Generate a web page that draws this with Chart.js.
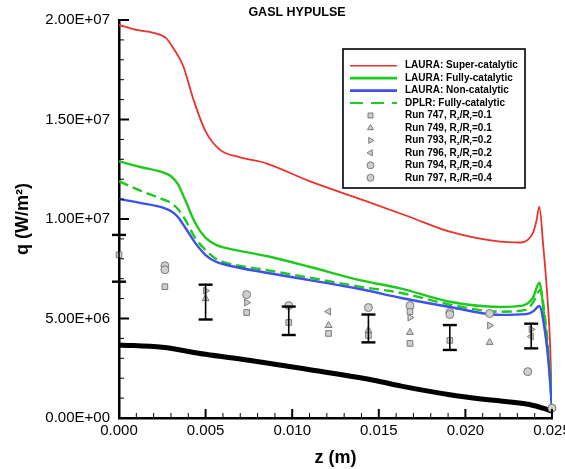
<!DOCTYPE html>
<html>
<head>
<meta charset="utf-8">
<script src="https://cdn.jsdelivr.net/npm/chart.js@4.4.1/dist/chart.umd.min.js"></script>
<style>
  body { margin: 0; background: #fff; }
  canvas { display: block; }
</style>
</head>
<body>
<canvas id="heatChart" width="565" height="469"></canvas>
<script>
// LAURA / DPLR predictions, q in W/m^2 along z in m
const zSuper = [0, 0.001, 0.002, 0.0027, 0.0032, 0.0037, 0.0043, 0.005, 0.0058, 0.007, 0.0085, 0.011, 0.0141, 0.0168, 0.0191, 0.022, 0.0232, 0.0236, 0.0239, 0.0241, 0.02427, 0.0245, 0.0247, 0.0249, 0.025];
const qSuper = [1.975e7, 1.95e7, 1.935e7, 1.91e7, 1.85e7, 1.77e7, 1.6e7, 1.44e7, 1.35e7, 1.31e7, 1.28e7, 1.19e7, 1.095e7, 1.01e7, 9.36e6, 8.86e6, 8.82e6, 8.95e6, 9.3e6, 9.9e6, 1.062e7, 8.6e6, 6.5e6, 3.5e6, 4e5];

const zFully = [0, 0.0013, 0.0025, 0.003, 0.0034, 0.0038, 0.0044, 0.005, 0.0056, 0.0062, 0.0085, 0.011, 0.0139, 0.0163, 0.0191, 0.022, 0.0233, 0.0239, 0.02427, 0.0245, 0.0247, 0.0249, 0.025];
const qFully = [1.29e7, 1.26e7, 1.235e7, 1.215e7, 1.175e7, 1.1e7, 9.8e6, 9.05e6, 8.7e6, 8.54e6, 8.14e6, 7.6e6, 6.93e6, 6.5e6, 5.84e6, 5.58e6, 5.65e6, 6.05e6, 6.8e6, 5.5e6, 3.8e6, 2e6, 5e5];

const zNon = [0, 0.0013, 0.0025, 0.003, 0.0034, 0.0038, 0.0044, 0.005, 0.0056, 0.0062, 0.0085, 0.011, 0.0139, 0.0163, 0.0191, 0.022, 0.0235, 0.0239, 0.02427, 0.0246, 0.0248, 0.025];
const qNon = [1.1e7, 1.08e7, 1.058e7, 1.04e7, 1.01e7, 9.6e6, 8.8e6, 8.19e6, 7.85e6, 7.69e6, 7.3e6, 6.93e6, 6.48e6, 6.03e6, 5.58e6, 5.18e6, 5.22e6, 5.35e6, 5.63e6, 4.3e6, 2.8e6, 5e5];

const zDplr = [0, 0.0013, 0.0025, 0.003, 0.0034, 0.0038, 0.0044, 0.005, 0.0056, 0.0062, 0.0085, 0.011, 0.0139, 0.0163, 0.0191, 0.022, 0.0235, 0.0239, 0.02433, 0.0246, 0.0248, 0.025];
const qDplr = [1.19e7, 1.14e7, 1.1e7, 1.08e7, 1.05e7, 1.0e7, 9.05e6, 8.44e6, 8.0e6, 7.79e6, 7.44e6, 7.05e6, 6.6e6, 6.28e6, 5.7e6, 5.34e6, 5.43e6, 5.8e6, 6.43e6, 5.0e6, 3.2e6, 5e5];

// thick black reference curve
const zBlack = [0, 0.0025, 0.005, 0.0075, 0.0105, 0.0147, 0.0163, 0.0191, 0.0215, 0.0237, 0.025];
const qBlack = [3.67e6, 3.55e6, 3.2e6, 2.9e6, 2.5e6, 1.9e6, 1.6e6, 1.17e6, 0.9e6, 0.68e6, 3.5e5];

// GASL HYPULSE runs
const z747 = [0, 0.00265, 0.00737, 0.0098, 0.0121, 0.0144, 0.0168, 0.0168, 0.0191];
const q747 = [8.2e6, 6.6e6, 5.3e6, 4.8e6, 4.25e6, 4.15e6, 3.75e6, 5.35e6, 3.9e6];
const z749 = [0.005, 0.0121, 0.0144, 0.0168, 0.0214];
const q749 = [6.0e6, 4.65e6, 4.4e6, 4.3e6, 3.8e6];
const z793 = [0.005, 0.00737, 0.0168, 0.0214, 0.0238];
const q793 = [6.4e6, 5.8e6, 5.05e6, 4.65e6, 4.45e6];
const z796 = [0.0121, 0.0238];
const q796 = [5.35e6, 4.1e6];
const z794 = [0.00265, 0.00737, 0.0098, 0.0144, 0.0168, 0.0191, 0.0214];
const q794 = [7.45e6, 6.2e6, 5.65e6, 5.55e6, 5.65e6, 5.2e6, 5.25e6];
const z797 = [0.00265, 0.0191, 0.0236, 0.025];
const q797 = [7.65e6, 5.3e6, 2.33e6, 5e5];

// error bars
const zErr = [0, 0.005, 0.0098, 0.0144, 0.0191, 0.0238];
const qErrLo = [6.85e6, 4.95e6, 4.17e6, 3.8e6, 3.42e6, 3.5e6];
const qErrHi = [9.2e6, 6.7e6, 5.6e6, 5.2e6, 4.67e6, 4.74e6];

const lineNames = ['LAURA: Super-catalytic', 'LAURA: Fully-catalytic', 'LAURA: Non-catalytic', 'DPLR: Fully-catalytic'];
const runNames = ['747', '749', '793', '796', '794', '797'];
const runRatios = ['0.1', '0.1', '0.2', '0.2', '0.4', '0.4'];

const RED = '#e8322b', GREEN = '#1ec81e', BLUE = '#3c50ec';
const MFILL = '#cfcfcf', MEDGE = '#7a7a7a';
const FONT = '"Liberation Sans", Arial, Helvetica, sans-serif';

const pts = (zs, qs) => zs.map((z, i) => ({ x: z, y: qs[i] }));

function errPoints() {
    const out = [];
    zErr.forEach((z, i) => {
        out.push({ x: z, y: qErrLo[i] }, { x: z, y: qErrHi[i] }, { x: z, y: null });
    });
    return out;
}

function sci(v) {
    if (v === 0) return '0.00E+00';
    const e = Math.floor(Math.log10(Math.abs(v)) + 1e-9);
    const m = v / Math.pow(10, e);
    return m.toFixed(2) + 'E' + (e < 0 ? '-' : '+') + String(Math.abs(e)).padStart(2, '0');
}

function curve(data, color, width, dash) {
    return {
        type: 'line', data: data, borderColor: color, borderWidth: width,
        borderDash: dash || [], pointRadius: 0, fill: false,
        cubicInterpolationMode: 'monotone', order: 2
    };
}

function runSet(data, style, rotation) {
    return {
        type: 'scatter', data: data, pointStyle: style, rotation: rotation || 0,
        pointRadius: 4, backgroundColor: MFILL, borderColor: MEDGE,
        pointBorderWidth: 1, showLine: false, clip: 10, order: 1
    };
}

const markerStyles = [['rect', 0], ['triangle', 0], ['triangle', 90], ['triangle', -90], ['circle', 0], ['circle', 0]];

// title, legend and inward tick marks
const decorations = {
    id: 'decorations',
    afterDraw(chart) {
        const { ctx, chartArea, scales: { x, y } } = chart;
        ctx.save();
        ctx.strokeStyle = '#000';
        x.ticks.forEach(t => {
            const px = x.getPixelForValue(t.value);
            const major = t.label !== '';
            ctx.lineWidth = major ? 2 : 1;
            ctx.beginPath();
            ctx.moveTo(px, chartArea.bottom);
            ctx.lineTo(px, chartArea.bottom - (major ? 9 : 5));
            ctx.stroke();
        });
        y.ticks.forEach(t => {
            const py = y.getPixelForValue(t.value);
            const major = t.label !== '';
            ctx.lineWidth = major ? 2 : 1;
            ctx.beginPath();
            ctx.moveTo(chartArea.left, py);
            ctx.lineTo(chartArea.left + (major ? 10 : 5), py);
            ctx.stroke();
        });

        ctx.fillStyle = '#000';
        ctx.font = 'bold 12.5px ' + FONT;
        ctx.textAlign = 'center';
        ctx.textBaseline = 'middle';
        ctx.fillText('GASL HYPULSE', 297, 13);

        // legend
        const bx = 343, by = 49, bw = 182, bh = 139;
        ctx.fillStyle = '#fff';
        ctx.fillRect(bx, by, bw, bh);
        ctx.lineWidth = 1.6;
        ctx.strokeStyle = '#000';
        ctx.strokeRect(bx, by, bw, bh);

        const lineStyles = [[RED, 1.6, []], [GREEN, 2.6, []], [BLUE, 2.6, []], [GREEN, 2, [13, 8]]];
        const rowY = i => 65.7 + i * 12.45;
        ctx.textAlign = 'left';
        ctx.font = 'bold 10px ' + FONT;
        lineNames.forEach((name, i) => {
            const [c, w, d] = lineStyles[i];
            ctx.strokeStyle = c;
            ctx.lineWidth = w;
            ctx.setLineDash(d);
            ctx.beginPath();
            ctx.moveTo(350, rowY(i));
            ctx.lineTo(397, rowY(i));
            ctx.stroke();
            ctx.setLineDash([]);
            ctx.fillStyle = '#000';
            ctx.fillText(name, 405, rowY(i));
        });
        runNames.forEach((run, k) => {
            const i = k + 4, ry = rowY(i);
            const [style, rot] = markerStyles[k];
            ctx.fillStyle = MFILL;
            ctx.strokeStyle = MEDGE;
            ctx.lineWidth = 1;
            Chart.helpers.drawPoint(ctx, { pointStyle: style, rotation: rot, radius: 3.5, borderWidth: 1 }, 370.5, ry);
            ctx.fillStyle = '#000';
            let tx = 405;
            const put = (s, sub) => {
                ctx.font = sub ? 'bold 6px ' + FONT : 'bold 10px ' + FONT;
                ctx.fillText(s, tx, sub ? ry + 3 : ry);
                tx += ctx.measureText(s).width;
            };
            put('Run ' + run + ', R', false);
            put('z', true);
            put('/R', false);
            put('r', true);
            put('=' + runRatios[k], false);
        });
        ctx.restore();
    }
};

const datasets = [
    curve(pts(zBlack, qBlack), '#000', 5),
    curve(pts(zNon, qNon), BLUE, 2.4),
    curve(pts(zDplr, qDplr), GREEN, 2.4, [10, 5]),
    curve(pts(zFully, qFully), GREEN, 2.4),
    curve(pts(zSuper, qSuper), RED, 1.8),
    runSet(pts(z747, q747), 'rect'),
    runSet(pts(z749, q749), 'triangle'),
    runSet(pts(z793, q793), 'triangle', 90),
    runSet(pts(z796, q796), 'triangle', -90),
    runSet(pts(z794, q794), 'circle'),
    runSet(pts(z797, q797), 'circle'),
    {
        type: 'line', data: errPoints(), borderColor: '#000', borderWidth: 1.6,
        spanGaps: false, pointStyle: 'line', pointRadius: 7, pointBorderWidth: 2.4,
        pointBorderColor: '#000', clip: 10, order: 0
    }
];

new Chart(document.getElementById('heatChart'), {
    type: 'line',
    data: { datasets: datasets },
    options: {
        responsive: false,
        animation: false,
        layout: { padding: { left: 0, top: 20, right: 13, bottom: 0 } },
        plugins: { legend: { display: false }, tooltip: { enabled: false } },
        scales: {
            x: {
                type: 'linear', min: 0, max: 0.025,
                grid: { display: false, drawTicks: false },
                border: { display: true, color: '#000', width: 2.5 },
                ticks: {
                    stepSize: 0.001, autoSkip: false, maxRotation: 0, padding: 4,
                    color: '#000', font: { family: FONT, size: 15 },
                    callback: v => Math.abs(v / 0.005 - Math.round(v / 0.005)) < 1e-6 ? v.toFixed(3) : ''
                },
                title: {
                    display: true, text: 'z (m)', color: '#000',
                    font: { family: FONT, size: 18, weight: 'bold' }, padding: { top: 0, bottom: 0 }
                },
                afterFit(scale) { scale.height = 51; scale.paddingLeft = 0; scale.paddingRight = 0; }
            },
            y: {
                min: 0, max: 2e7,
                grid: { display: false, drawTicks: false },
                border: { display: true, color: '#000', width: 2.5 },
                ticks: {
                    stepSize: 1e6, autoSkip: false, padding: 9,
                    color: '#000', font: { family: FONT, size: 15 },
                    callback: v => Math.round(v / 1e6) % 5 === 0 ? sci(v) : ''
                },
                title: {
                    display: true, text: 'q (W/m²)', color: '#000',
                    font: { family: FONT, size: 18, weight: 'bold' }, padding: { top: 12, bottom: 0 }
                },
                afterFit(scale) { scale.width = 119; scale.paddingTop = 0; scale.paddingBottom = 0; }
            }
        }
    },
    plugins: [decorations]
});
</script>
</body>
</html>
